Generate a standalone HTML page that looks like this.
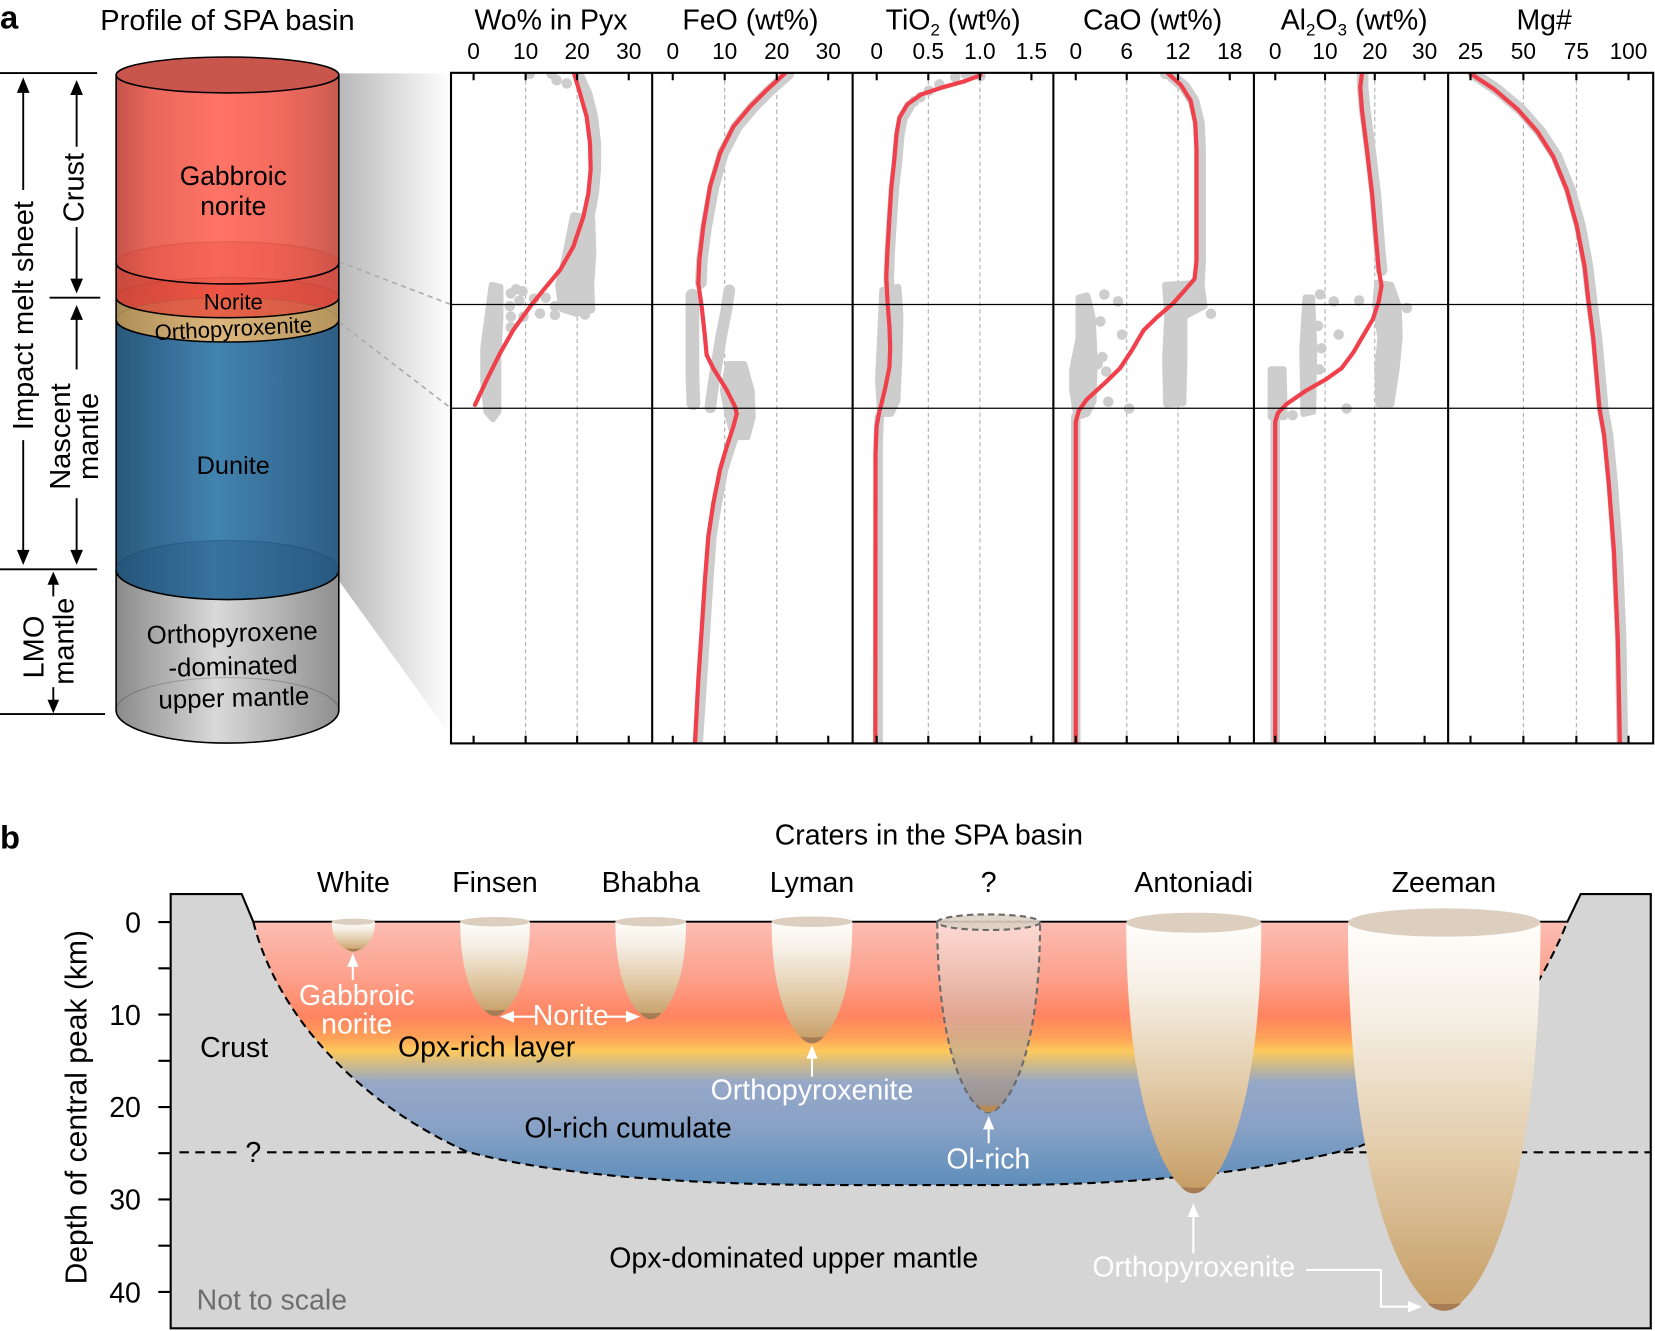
<!DOCTYPE html>
<html><head><meta charset="utf-8"><style>html,body{margin:0;padding:0;background:#fff}svg{display:block}</style></head>
<body>
<svg xmlns="http://www.w3.org/2000/svg" width="1655" height="1331" viewBox="0 0 1568 1261" font-family="'Liberation Sans', Arial, sans-serif">
<defs>
<linearGradient id="gRed" gradientUnits="userSpaceOnUse" x1="110" y1="0" x2="321" y2="0"><stop offset="0" stop-color="#c4544a"/><stop offset="0.15" stop-color="#e8665a"/><stop offset="0.45" stop-color="#ff7466"/><stop offset="0.7" stop-color="#f46c5f"/><stop offset="0.9" stop-color="#dc6256"/><stop offset="1" stop-color="#c65a4f"/></linearGradient>
<linearGradient id="gNor" gradientUnits="userSpaceOnUse" x1="110" y1="0" x2="321" y2="0"><stop offset="0" stop-color="#c94a3e"/><stop offset="0.45" stop-color="#f2594a"/><stop offset="1" stop-color="#cf5045"/></linearGradient>
<linearGradient id="gOpx" gradientUnits="userSpaceOnUse" x1="110" y1="0" x2="321" y2="0"><stop offset="0" stop-color="#a88a55"/><stop offset="0.45" stop-color="#e2bd85"/><stop offset="1" stop-color="#b0925c"/></linearGradient>
<linearGradient id="gDun" gradientUnits="userSpaceOnUse" x1="110" y1="0" x2="321" y2="0"><stop offset="0" stop-color="#2a587c"/><stop offset="0.45" stop-color="#4283b0"/><stop offset="1" stop-color="#2e5e84"/></linearGradient>
<linearGradient id="gGry" gradientUnits="userSpaceOnUse" x1="110" y1="0" x2="321" y2="0"><stop offset="0" stop-color="#8a8a8a"/><stop offset="0.45" stop-color="#d9d9d9"/><stop offset="1" stop-color="#8f8f8f"/></linearGradient>
<linearGradient id="gWedge" gradientUnits="userSpaceOnUse" x1="321" y1="0" x2="427" y2="0"><stop offset="0" stop-color="#b8b8b8"/><stop offset="1" stop-color="#ffffff"/></linearGradient>
<linearGradient id="gBasin" gradientUnits="userSpaceOnUse" x1="0" y1="873" x2="0" y2="1123"><stop offset="0" stop-color="#fdbdb3"/><stop offset="0.2" stop-color="#fca38f"/><stop offset="0.36" stop-color="#ff8460"/><stop offset="0.44" stop-color="#fda158"/><stop offset="0.49" stop-color="#fdc95b"/><stop offset="0.55" stop-color="#c8b890"/><stop offset="0.61" stop-color="#96a8c8"/><stop offset="0.78" stop-color="#88a1c5"/><stop offset="1" stop-color="#5d8ebb"/></linearGradient>
<linearGradient id="gCr" x1="0" y1="0" x2="0" y2="1"><stop offset="0" stop-color="#fffefb"/><stop offset="0.25" stop-color="#f5eee3"/><stop offset="0.6" stop-color="#e2cba8"/><stop offset="1" stop-color="#c59c63"/></linearGradient>
<linearGradient id="gQ" x1="0" y1="0" x2="0" y2="1"><stop offset="0" stop-color="#fff2ee" stop-opacity="0.55"/><stop offset="1" stop-color="#9a8472" stop-opacity="0.65"/></linearGradient>
<clipPath id="cf"><rect x="427.3" y="69" width="1139" height="635.3"/></clipPath>
</defs>

<!-- Panel a labels -->
<text x="0" y="27" font-size="31" font-weight="bold">a</text>
<text x="215.5" y="28.4" font-size="27.5" text-anchor="middle">Profile of SPA basin</text>

<!-- left annotation -->
<g stroke="#000" stroke-width="1.8" fill="none">
<line x1="0" y1="69.2" x2="92" y2="69.2"/>
<line x1="47" y1="282" x2="95" y2="282"/>
<line x1="0" y1="539.4" x2="92" y2="539.4"/>
<line x1="0" y1="676.5" x2="99.5" y2="676.5"/>
<line x1="22" y1="80" x2="22" y2="180"/><line x1="22" y1="417" x2="22" y2="528"/>
<line x1="72.6" y1="82" x2="72.6" y2="139"/><line x1="72.6" y1="215" x2="72.6" y2="271"/>
<line x1="72.6" y1="295" x2="72.6" y2="350"/><line x1="72.6" y1="472" x2="72.6" y2="528"/>
<line x1="50.5" y1="548" x2="50.5" y2="565"/><line x1="50.5" y1="651" x2="50.5" y2="669"/>
</g>
<g fill="#000">
<polygon points="22,73.3 16,88 28,88"/><polygon points="22,535.3 16,521 28,521"/>
<polygon points="72.6,75.8 66.6,90 78.6,90"/><polygon points="72.6,278 66.6,264 78.6,264"/>
<polygon points="72.6,289 66.6,303 78.6,303"/><polygon points="72.6,535 66.6,521 78.6,521"/>
<polygon points="50.5,541.6 45,554 56,554"/><polygon points="50.5,675.8 45,663 56,663"/>
</g>
<g font-size="27.5" text-anchor="middle">
<text transform="translate(31.5,299) rotate(-90)">Impact melt sheet</text>
<text transform="translate(79,177.7) rotate(-90)">Crust</text>
<text transform="translate(66.3,413.6) rotate(-90)">Nascent</text>
<text transform="translate(93,413.5) rotate(-90)">mantle</text>
<text transform="translate(41,613) rotate(-90)">LMO</text>
<text transform="translate(69.5,607.5) rotate(-90)">mantle</text>
</g>

<!-- wedge -->
<polygon points="321,69.5 427,69.5 427,697 318,546" fill="url(#gWedge)"/>
<line x1="321" y1="248" x2="426" y2="288" stroke="#aaa" stroke-width="1.5" stroke-dasharray="5 4"/>
<line x1="321" y1="305" x2="425" y2="385" stroke="#aaa" stroke-width="1.5" stroke-dasharray="5 4"/>

<!-- cylinder -->
<path d="M110,540 L110,673 A105.5,31 0 0 0 321,673 L321,540 Z" fill="url(#gGry)"/>
<path d="M110,303 L110,540 A105.5,28 0 0 0 321,540 L321,303 Z" fill="url(#gDun)"/>
<path d="M110,282 L110,303 A105.5,21 0 0 0 321,303 L321,282 Z" fill="url(#gOpx)"/>
<path d="M110,249 L110,282 A105.5,19 0 0 0 321,282 L321,249 Z" fill="url(#gNor)"/>
<path d="M110,71 L110,249 A105.5,20 0 0 0 321,249 L321,71 Z" fill="url(#gRed)"/>
<ellipse cx="215.5" cy="249" rx="105.5" ry="20" fill="#e0402f" fill-opacity="0.25" stroke="#a03020" stroke-opacity="0.25"/>
<ellipse cx="215.5" cy="282" rx="105.5" ry="19" fill="#e0402f" fill-opacity="0.2" stroke="#a03020" stroke-opacity="0.25"/>
<ellipse cx="215.5" cy="303" rx="105.5" ry="21" fill="#c8a060" fill-opacity="0.2" stroke="#7a6030" stroke-opacity="0.25"/>
<ellipse cx="215.5" cy="540" rx="105.5" ry="28" fill="#1e4e78" fill-opacity="0.3" stroke="#103050" stroke-opacity="0.25"/>
<path d="M110,673 A105.5,31 0 0 1 321,673" fill="none" stroke="#000" stroke-opacity="0.2" stroke-width="1"/>
<g fill="none" stroke="#000" stroke-width="1.5">
<path d="M110,249 A105.5,20 0 0 0 321,249"/>
<path d="M110,282 A105.5,19 0 0 0 321,282"/>
<path d="M110,303 A105.5,21 0 0 0 321,303"/>
<path d="M110,540 A105.5,28 0 0 0 321,540"/>
<path d="M110,71 L110,673 A105.5,31 0 0 0 321,673 L321,71"/>
</g>
<ellipse cx="215.5" cy="71" rx="105.5" ry="17" fill="#c9564c" stroke="#000" stroke-width="1.5"/>
<g text-anchor="middle" fill="#000">
<text x="221" y="175.3" font-size="25">Gabbroic</text>
<text x="221" y="203.7" font-size="25">norite</text>
<text x="221" y="293" font-size="21">Norite</text>
<text x="221" y="318.5" font-size="21" transform="rotate(-3 221 311)">Orthopyroxenite</text>
<text x="221" y="449" font-size="24">Dunite</text>
<g font-size="24.5" transform="rotate(-1.5 221 640)">
<text x="221" y="607.9">Orthopyroxene</text>
<text x="221" y="639.5">-dominated</text>
<text x="221" y="669.5">upper mantle</text>
</g>
</g>

<!-- chart headers -->
<g font-size="27" text-anchor="middle">
<text x="522" y="27.8">Wo% in Pyx</text>
<text x="711" y="27.8">FeO (wt%)</text>
<text x="903" y="27.8">TiO<tspan font-size="16" dy="6">2</tspan><tspan dy="-6"> (wt%)</tspan></text>
<text x="1092" y="27.8">CaO (wt%)</text>
<text x="1283" y="27.8">Al<tspan font-size="16" dy="6">2</tspan><tspan dy="-6">O</tspan><tspan font-size="16" dy="6">3</tspan><tspan dy="-6"> (wt%)</tspan></text>
<text x="1463" y="27.8">Mg#</text>
</g>
<g font-size="21.5" text-anchor="middle">
<text x="448.7" y="56">0</text><text x="498" y="56">10</text><text x="546.8" y="56">20</text><text x="595.7" y="56">30</text>
<text x="637.4" y="56">0</text><text x="686.6" y="56">10</text><text x="735.9" y="56">20</text><text x="784.7" y="56">30</text>
<text x="830.6" y="56">0</text><text x="879.5" y="56">0.5</text><text x="928.4" y="56">1.0</text><text x="977.2" y="56">1.5</text>
<text x="1019.2" y="56">0</text><text x="1067.5" y="56">6</text><text x="1116.1" y="56">12</text><text x="1165.1" y="56">18</text>
<text x="1208.2" y="56">0</text><text x="1255.4" y="56">10</text><text x="1302.5" y="56">20</text><text x="1349.7" y="56">30</text>
<text x="1393.2" y="56">25</text><text x="1443.3" y="56">50</text><text x="1493.5" y="56">75</text><text x="1542.9" y="56">100</text>
</g>

<!-- gridlines -->
<g stroke="#aaa" stroke-width="1" stroke-dasharray="4 3">
<line x1="498" y1="69" x2="498" y2="704"/><line x1="546.8" y1="69" x2="546.8" y2="704"/>
<line x1="686.6" y1="69" x2="686.6" y2="704"/><line x1="735.9" y1="69" x2="735.9" y2="704"/>
<line x1="879.5" y1="69" x2="879.5" y2="704"/><line x1="928.4" y1="69" x2="928.4" y2="704"/>
<line x1="1067.5" y1="69" x2="1067.5" y2="704"/><line x1="1116.1" y1="69" x2="1116.1" y2="704"/>
<line x1="1255.4" y1="69" x2="1255.4" y2="704"/><line x1="1302.5" y1="69" x2="1302.5" y2="704"/>
<line x1="1443.3" y1="69" x2="1443.3" y2="704"/><line x1="1493.5" y1="69" x2="1493.5" y2="704"/>
</g>

<!-- scatter (gray) -->
<g clip-path="url(#cf)" fill="#cdcdcd" stroke="#cdcdcd" stroke-linejoin="round" stroke-linecap="round">
<!-- Wo -->
<polyline fill="none" stroke-width="11" points="549,74 556,90 561,110 564,135 564,160 562,183 558,205 553,225"/>
<polygon stroke-width="8" points="544,205 560,208 561,240 559,270 560,293 546,296 533,292 530,270 536,245 540,225"/>
<polygon stroke-width="6" points="466,270 474,272 474,300 472,340 472,390 467,397 461,390 458,360 458,330 462,300"/>
<g stroke="none">
<circle cx="502" cy="70" r="5"/><circle cx="522.7" cy="70" r="5"/><circle cx="527.4" cy="76" r="5"/><circle cx="537" cy="79" r="5"/>
<circle cx="484" cy="278" r="5"/><circle cx="489" cy="274" r="5"/><circle cx="495" cy="276" r="5"/><circle cx="483" cy="290" r="5"/><circle cx="484" cy="300" r="5"/><circle cx="496" cy="300" r="5"/><circle cx="492" cy="285" r="5"/><circle cx="511.6" cy="297" r="5"/><circle cx="525.8" cy="298.4" r="5"/><circle cx="554.2" cy="298" r="5"/><circle cx="517" cy="282" r="5"/><circle cx="506" cy="283" r="5"/><circle cx="525.8" cy="290" r="5"/><circle cx="484" cy="310" r="5"/>
</g>
<!-- FeO -->
<polyline fill="none" stroke-width="11" points="747,70 730,85 714,101 698,120 685,145 676,177 669,215 665,246 664,268"/>
<polyline fill="none" stroke-width="13" points="656,280 656,320 656,355 657,382"/>
<polyline fill="none" stroke-width="11" points="691,275 688,295 683,320 679,345 675,370 673,386"/>
<polygon stroke-width="6" points="690,345 705,345 712,370 713,395 708,414 695,414 690,395 685,370"/>
<polyline fill="none" stroke-width="10" points="701,395 698,404 692,423 685,445 679,477 674,508 671,550 668,597 665,644 661,704"/>
<!-- TiO2 -->
<g stroke="none"><circle cx="915" cy="70" r="5"/><circle cx="922" cy="70" r="5"/><circle cx="929" cy="72" r="5"/><circle cx="905" cy="73" r="5"/><circle cx="890" cy="80" r="5"/><circle cx="880" cy="86" r="5"/><circle cx="872" cy="92" r="5"/><circle cx="866" cy="96" r="5"/></g>
<polyline fill="none" stroke-width="10" points="862,100 855,112 852,128 850,152 847,178 845,206 843,238 842,263 843,285"/>
<polygon stroke-width="6" points="836,275 851,272 853,300 852,340 850,380 844,392 834,392 832,360 834,320"/>
<polyline fill="none" stroke-width="9" points="833,395 832,420 832,704"/>
<!-- CaO -->
<g stroke="none"><circle cx="1104" cy="70" r="5"/><circle cx="1110" cy="70" r="5"/></g>
<polyline fill="none" stroke-width="11" points="1110,72 1122,82 1131,96 1136,117 1137,142 1137,248 1136,268"/>
<polygon stroke-width="6" points="1104,270 1138,268 1141,290 1122,300 1122,340 1121,382 1105,383 1104,340 1106,300"/>
<polygon stroke-width="6" points="1022,282 1030,280 1035,300 1037,340 1036,380 1030,392 1020,395 1016,370 1016,350 1022,320"/>
<g stroke="none"><circle cx="1046.3" cy="279" r="5"/><circle cx="1059.3" cy="285.5" r="5"/><circle cx="1042.6" cy="304.5" r="5"/><circle cx="1063" cy="317" r="5"/><circle cx="1044.4" cy="338.3" r="5"/><circle cx="1050" cy="380.6" r="5"/><circle cx="1069.7" cy="387" r="5"/><circle cx="1147.3" cy="297.3" r="5"/><circle cx="1040" cy="345" r="5"/><circle cx="1048" cy="352" r="5"/></g>
<polyline fill="none" stroke-width="9" points="1019.2,395 1019.2,704"/>
<!-- Al2O3 -->
<polyline fill="none" stroke-width="11" points="1291,70 1291,83 1293,104 1298,142 1303,184 1307,235 1309,256"/>
<polygon stroke-width="6" points="1305,268 1318,270 1325,290 1326,320 1323,350 1318,383 1306,383 1305,350 1308,320 1303,290"/>
<polygon stroke-width="6" points="1237,282 1243,282 1245,330 1244,390 1235,392 1234,330"/>
<polygon stroke-width="6" points="1204,350 1216,350 1217,395 1204,395"/>
<g stroke="none"><circle cx="1250.6" cy="279" r="5"/><circle cx="1263.6" cy="285.5" r="5"/><circle cx="1287.7" cy="284.7" r="5"/><circle cx="1268.3" cy="317" r="5"/><circle cx="1333" cy="291.8" r="5"/><circle cx="1275.8" cy="387" r="5"/><circle cx="1224.6" cy="393.3" r="5"/><circle cx="1248.7" cy="308.7" r="5"/><circle cx="1252" cy="330" r="5"/><circle cx="1250" cy="350" r="5"/></g>
<polyline fill="none" stroke-width="9" points="1208.2,395 1208.2,704"/>
<!-- Mg -->
<polyline fill="none" stroke-width="11" points="1396,70 1418.5,85 1441,104 1459.5,125 1474.5,148 1487.5,180 1497,214 1504,252 1508,286 1512.5,320 1515.5,353 1518.5,387 1523,412 1527.5,459 1532,522 1535.5,607 1537,704"/>
</g>

<!-- red curves -->
<g clip-path="url(#cf)" fill="none" stroke="#f0404b" stroke-width="4" stroke-linejoin="round" stroke-linecap="round">
<polyline points="543.9,69.5 549.5,88.4 555.8,110.5 559,135.8 559.6,161.1 557.4,183.2 552.7,205.3 543.2,233.7 530.6,255.8 514.8,274.8 502.1,290.6 486.3,312.6 473.7,334.7 461.1,360 450,383.7"/>
<polyline points="743.7,69.5 726.4,85.3 710.6,101.1 694.8,120 682.1,145.3 672.7,176.8 666.3,214.8 662.6,246.3 661.6,268.4 664.8,290.6 667.9,319 669.5,336.3 675.8,349 688.5,369.5 696.4,385.3 698,392 694.8,404.2 688.5,423.2 682.1,445.3 675.8,476.8 671.1,508.5 667.9,549.5 664.8,596.9 661.6,644.2 658.5,704"/>
<polyline points="929.1,71.2 914.1,76.9 891.5,83.2 872.7,89.5 859.6,98.9 852.1,111.5 849.4,127.3 847.2,152.4 844.5,177.6 842.7,205.9 840.8,237.5 839.7,262.7 840.8,284.7 842.7,309.9 843.4,328.8 842.7,347.7 838.9,366.6 835.2,382.3 833.1,390 830.5,404 829.5,430 829.3,704"/>
<polyline points="1106.8,69.8 1118.7,80.4 1128,95.2 1132.4,116.4 1133.6,141.7 1133.6,247.4 1131.7,264.3 1124.3,272.8 1111.3,287.6 1096.4,300.3 1083.4,313 1072.3,332 1061.1,348.9 1048.1,361.6 1029.6,378.5 1022.1,389.1 1019.2,399.6 1019.2,704"/>
<polyline points="1290.3,69.8 1288.8,82.5 1290.3,103.7 1295.1,141.7 1300,184 1304.4,234.7 1306.3,255.9 1308.9,270.7 1306.3,285.5 1300.7,302.4 1289.5,321.4 1282.1,334.1 1271,348.9 1256.1,359.5 1237.6,370 1219,382.7 1210.8,391.2 1208.2,399.6 1208.2,704"/>
<polyline points="1393.5,69.8 1415.8,84.6 1438.1,103.7 1456.7,124.8 1471.5,148.1 1484.5,179.8 1493.8,213.6 1501.2,251.7 1505,285.5 1509.4,319.3 1512.4,353.1 1515.4,386.9 1519.8,412.3 1524.3,458.8 1529.1,522.2 1532.8,606.8 1534.7,704"/>
</g>

<!-- frame & lines -->
<g stroke="#000">
<line x1="427.3" y1="288.5" x2="1566.3" y2="288.5" stroke-width="1.2"/>
<line x1="427.3" y1="386.8" x2="1566.3" y2="386.8" stroke-width="1.2"/>
<rect x="427.3" y="69" width="1139" height="635.3" fill="none" stroke-width="2"/>
<line x1="617.9" y1="69" x2="617.9" y2="704.3" stroke-width="2"/>
<line x1="807.8" y1="69" x2="807.8" y2="704.3" stroke-width="2"/>
<line x1="998" y1="69" x2="998" y2="704.3" stroke-width="2"/>
<line x1="1188" y1="69" x2="1188" y2="704.3" stroke-width="2"/>
<line x1="1372" y1="69" x2="1372" y2="704.3" stroke-width="2"/>
</g>
<g stroke="#000" stroke-width="2">
<path d="M448.7,69V76M498,69V76M546.8,69V76M595.7,69V76M637.4,69V76M686.6,69V76M735.9,69V76M784.7,69V76M830.6,69V76M879.5,69V76M928.4,69V76M977.2,69V76M1019.2,69V76M1067.5,69V76M1116.1,69V76M1165.1,69V76M1208.2,69V76M1255.4,69V76M1302.5,69V76M1349.7,69V76M1393.2,69V76M1443.3,69V76M1493.5,69V76M1542.9,69V76"/>
<path d="M448.7,704V697M498,704V697M546.8,704V697M595.7,704V697M637.4,704V697M686.6,704V697M735.9,704V697M784.7,704V697M830.6,704V697M879.5,704V697M928.4,704V697M977.2,704V697M1019.2,704V697M1067.5,704V697M1116.1,704V697M1165.1,704V697M1208.2,704V697M1255.4,704V697M1302.5,704V697M1349.7,704V697M1393.2,704V697M1443.3,704V697M1493.5,704V697M1542.9,704V697"/>
</g>

<!-- Panel b -->
<text x="0" y="803.8" font-size="31" font-weight="bold">b</text>
<text x="880" y="800" font-size="27" text-anchor="middle">Craters in the SPA basin</text>
<g font-size="27" text-anchor="middle">
<text x="334.8" y="845">White</text><text x="469" y="845">Finsen</text><text x="616.5" y="845">Bhabha</text><text x="769.3" y="845">Lyman</text><text x="936.7" y="845">?</text><text x="1131" y="845">Antoniadi</text><text x="1368" y="845">Zeeman</text>
</g>

<!-- y axis -->
<g stroke="#000" stroke-width="2">
<path d="M150,873.6H161.7M150,917.4H161.7M150,961.2H161.7M150,1005H161.7M150,1048.8H161.7M150,1092.6H161.7M150,1136.4H161.7M150,1180.2H161.7M150,1224H161.7"/>
</g>
<g font-size="27" text-anchor="end">
<text x="133.5" y="883.5">0</text><text x="133.5" y="971">10</text><text x="133.5" y="1058.5">20</text><text x="133.5" y="1146">30</text><text x="133.5" y="1234">40</text>
</g>
<text transform="translate(82,1049) rotate(-90)" font-size="28.5" text-anchor="middle">Depth of central peak (km)</text>

<!-- gray ground -->
<path d="M161.7,847 L229,847 L240,873.3 L1485,873.3 L1497.6,847 L1564,847 L1564,1258.5 L161.7,1258.5 Z" fill="#d5d5d5" stroke="#000" stroke-width="2"/>
<g stroke="#000" stroke-width="2" stroke-dasharray="9 6" fill="none">
<line x1="170" y1="1091.7" x2="229" y2="1091.7"/>
<line x1="253" y1="1091.7" x2="1564" y2="1091.7"/>
</g>
<text x="240" y="1101" font-size="27" text-anchor="middle">?</text>

<!-- basin -->
<path d="M240,873.3 C255,935 310,1030 442,1091 C520,1112 640,1122.7 800,1122.7 L950,1122.7 C1080,1122.5 1200,1110 1287.4,1086.4 C1380,1050 1450,960 1485,873.3 Z" fill="url(#gBasin)"/>
<path d="M240,873.3 C255,935 310,1030 442,1091 C520,1112 640,1122.7 800,1122.7 L950,1122.7 C1080,1122.5 1200,1110 1287.4,1086.4 C1380,1050 1450,960 1485,873.3" fill="none" stroke="#000" stroke-width="2" stroke-dasharray="8 5"/>
<line x1="240" y1="873.3" x2="1485" y2="873.3" stroke="#000" stroke-width="1.5"/>

<!-- craters -->
<g fill="url(#gCr)">
<path d="M314.3,873.3 C314.3,894.5 328.7,901.6 334.8,901.6 C340.9,901.6 355.3,894.5 355.3,873.3 Z"/>
<path d="M436,873.3 C436,940.3 459.1,962.6 469,962.6 C478.9,962.6 502,940.3 502,873.3 Z"/>
<path d="M583,873.3 C583,942.6 606.5,965.7 616.5,965.7 C626.5,965.7 650,942.6 650,873.3 Z"/>
<path d="M731.1,873.3 C731.1,959.7 757.8,988.5 769.3,988.5 C780.8,988.5 807.5,959.7 807.5,873.3 Z"/>
<path d="M1067,874.2 C1067,1066.5 1111.8,1130.6 1131,1130.6 C1150.2,1130.6 1195,1066.5 1195,874.2 Z"/>
<path d="M1277.1,874 C1277.1,1149.9 1340.9,1241.8 1368.3,1241.8 C1395.7,1241.8 1459.5,1149.9 1459.5,874 Z"/>
</g>
<path d="M888,873.7 C888,1009.2 922.1,1053.9 936.7,1053.9 C951.3,1053.9 985.4,1009.2 985.4,873.7 Z" fill="url(#gQ)" stroke="#6b6b6b" stroke-width="2" stroke-dasharray="6 4"/>
<g fill="#dccfbf">
<ellipse cx="334.8" cy="873.3" rx="20.5" ry="3"/>
<ellipse cx="469" cy="873.3" rx="33" ry="4.5"/>
<ellipse cx="616.5" cy="873.3" rx="33.5" ry="4.5"/>
<ellipse cx="769.3" cy="873.3" rx="38.2" ry="5"/>
<ellipse cx="1131" cy="874.2" rx="64" ry="9.5"/>
<ellipse cx="1368.3" cy="874" rx="91.2" ry="13.4"/>
</g>
<ellipse cx="936.7" cy="873.7" rx="48.7" ry="7.4" fill="#dccfc2" fill-opacity="0.85" stroke="#6b6b6b" stroke-width="2" stroke-dasharray="6 4"/>
<g fill="#a67c55">
<path d="M328.5,898.4 Q334.8,899.6 341.1,898.4 Q338.3,901.6 334.8,901.6 Q331.3,901.6 328.5,898.4 Z"/>
<path d="M459,956.6 Q469,958 479,956.6 Q474.5,962.6 469,962.6 Q463.5,962.6 459,956.6 Z"/>
<path d="M606.5,959.4 Q616.5,960.8 626.5,959.4 Q622,965.7 616.5,965.7 Q611,965.7 606.5,959.4 Z"/>
<path d="M758.3,982.2 Q769.3,983.6 780.3,982.2 Q775.3,988.5 769.3,988.5 Q763.3,988.5 758.3,982.2 Z"/>
<path d="M1119,1124.6 Q1131,1126 1143,1124.6 Q1137.6,1130.6 1131,1130.6 Q1124.4,1130.6 1119,1124.6 Z"/>
<path d="M1352.3,1234.8 Q1368.3,1236.3 1384.3,1234.8 Q1377,1241.8 1368.3,1241.8 Q1359.6,1241.8 1352.3,1234.8 Z"/>
<path d="M926.7,1046.9 Q936.7,1048.3 946.7,1046.9 Q942.2,1053.9 936.7,1053.9 Q931.2,1053.9 926.7,1046.9 Z" fill="#b58a55"/>
</g>

<!-- labels panel b -->
<g font-size="27" text-anchor="middle">
<text x="221.8" y="1001.4">Crust</text>
<text x="461" y="1001">Opx-rich layer</text>
<text x="595" y="1077.5">Ol-rich cumulate</text>
<text x="752" y="1200.7">Opx-dominated upper mantle</text>
</g>
<text x="186.3" y="1240.8" font-size="27" fill="#6e6e6e">Not to scale</text>
<g font-size="27" text-anchor="middle" fill="#fff">
<text x="338" y="952">Gabbroic</text>
<text x="338" y="979">norite</text>
<text x="540.7" y="971">Norite</text>
<text x="769.3" y="1041.5">Orthopyroxenite</text>
<text x="936.4" y="1107">Ol-rich</text>
<text x="1131" y="1209.5">Orthopyroxenite</text>
</g>
<g stroke="#fff" stroke-width="2" fill="none">
<line x1="334.3" y1="928.5" x2="334.3" y2="912"/>
<line x1="508" y1="963.2" x2="484" y2="963.2"/>
<line x1="573" y1="963.2" x2="597" y2="963.2"/>
<line x1="769.3" y1="1020" x2="769.3" y2="999"/>
<line x1="936.7" y1="1083.2" x2="936.7" y2="1066"/>
<line x1="1130.6" y1="1187.4" x2="1130.6" y2="1150"/>
<polyline points="1237.4,1203.2 1308.4,1203.2 1308.4,1238 1337,1238"/>
</g>
<g fill="#fff">
<polygon points="334.3,903 329,916 339.6,916"/>
<polygon points="473.7,963.2 487,957.7 487,968.7"/>
<polygon points="606.4,963.2 593,957.7 593,968.7"/>
<polygon points="769.3,990 764,1003 774.6,1003"/>
<polygon points="936.7,1057.3 931.4,1070 942,1070"/>
<polygon points="1130.6,1140 1125.3,1153 1135.9,1153"/>
<polygon points="1347.3,1238 1334,1232.5 1334,1243.5"/>
</g>
</svg>
</body></html>
